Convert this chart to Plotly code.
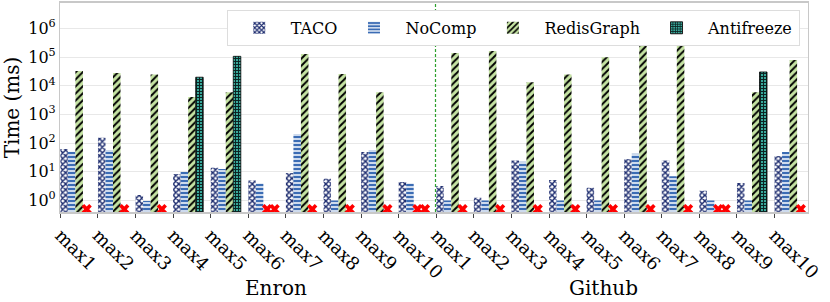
import plotly.graph_objects as go

# ---------------- data ----------------
queries = ["max1", "max2", "max3", "max4", "max5", "max6", "max7", "max8", "max9", "max10"]
datasets = ["Enron", "Github"]

taco = [63, 155, 1.55, 8.4, 14, 5.0, 9.1, 5.8, 49, 4.4,
        3.2, 1.25, 25, 5.2, 2.8, 28, 25, 2.2, 4.1, 36]
nocomp = [50, 58, 0.97, 9.8, 12.6, 3.9, 209, 1.0, 58, 3.9,
          1.0, 1.0, 22.6, 1.0, 1.0, 43, 7, 1.0, 1.0, 49]
redisgraph = [33000, 28000, 25000, 4100, 6000, None, 129000, 26000, 6000, None,
              139000, 163000, 13300, 25000, 100000, 245000, 265000, None, 6000, 79000]
antifreeze = [None, None, None, 20000, 107000, None, None, None, None, None,
              None, None, None, None, None, None, None, None, 30500, None]

tick_labels = queries + queries
y_tickvals = [1, 10, 100, 1000, 10000, 100000, 1000000]
y_ticktext = ["10<sup>%d</sup>" % i for i in range(7)]
missing_marker_value = 0.5

# ---------------- figure ----------------
FONT = "DejaVu Serif"
n = len(tick_labels)
xpos = list(range(n))
w = 0.2

series = [
    ("TACO", taco, dict(color="white", pattern=dict(shape="x", fgcolor="#1c2b6e", bgcolor="white", size=4, solidity=0.6, fillmode="replace"))),
    ("NoComp", nocomp, dict(color="white", pattern=dict(shape="-", fgcolor="#3b6cb4", bgcolor="#dde6f4", size=4, solidity=0.55, fillmode="replace"))),
    ("RedisGraph", redisgraph, dict(color="#c5e3a3", pattern=dict(shape="/", fgcolor="black", bgcolor="#c5e3a3", size=5, solidity=0.4, fillmode="replace"))),
    ("Antifreeze", antifreeze, dict(color="#2e9c90", line=dict(color="black", width=0.8),
                                     pattern=dict(shape="+", fgcolor="#0b2423", bgcolor="#38a89b", size=3, solidity=0.55, fillmode="replace"))),
]

fig = go.Figure()
mx, my = [], []
for k, (name, vals, marker) in enumerate(series):
    if "line" not in marker:
        marker["line"] = dict(width=0)
    fig.add_trace(go.Bar(
        x=xpos, y=vals, name=name, width=w, offset=k * w,
        marker=marker,
    ))
    for i, v in enumerate(vals):
        if v is None:
            mx.append(i + k * w + w / 2)
            my.append(missing_marker_value)

fig.add_trace(go.Scatter(
    x=mx, y=my, mode="markers", showlegend=False,
    marker=dict(symbol="x", color="red", size=9, line=dict(width=0)),
))

# separator between datasets
fig.add_shape(type="line", x0=9.98, x1=9.98, y0=0, y1=1, xref="x", yref="paper",
              line=dict(color="#2ca02c", width=1.2, dash="3px,2px"))

# dataset labels
for label, xc in zip(datasets, [5.73, 14.46]):
    fig.add_annotation(text=label, x=xc, y=-0.365, xref="x", yref="paper",
                       showarrow=False, font=dict(family=FONT, size=20, color="black"),
                       xanchor="center", yanchor="middle")

fig.update_layout(
    width=830, height=302,
    margin=dict(l=60, r=22, t=3, b=90),
    paper_bgcolor="white", plot_bgcolor="white",
    barmode="overlay",
    font=dict(family=FONT, color="black"),
    legend=dict(orientation="h", x=0.989, xanchor="right", y=0.967, yanchor="top",
                bgcolor="white", bordercolor="#dddddd", borderwidth=1,
                font=dict(family=FONT, size=16, color="black"), itemwidth=53),
    xaxis=dict(range=[-0.01, 19.89], tickvals=xpos, ticktext=tick_labels,
               tickangle=45, tickfont=dict(family=FONT, size=18, color="black"),
               ticks="outside", ticklen=4, tickcolor="#444444",
               showgrid=False, zeroline=False, automargin=False,
               showline=True, mirror=True, linecolor="#c8c8c8", linewidth=1.5),
    yaxis=dict(type="log", range=[-0.40, 6.89], tickvals=y_tickvals, ticktext=y_ticktext,
               tickfont=dict(family=FONT, size=16, color="black"),
               title=dict(text="Time (ms)", font=dict(family=FONT, size=20, color="black"), standoff=6),
               showgrid=True, gridcolor="#e8e8e8", gridwidth=1, zeroline=False, automargin=False,
               ticks="", showline=True, mirror=True, linecolor="#c8c8c8", linewidth=1.2),
)

fig.write_html("out.html", config={"displayModeBar": False},
               post_script="document.body.style.margin='0';document.body.style.overflow='hidden';")
